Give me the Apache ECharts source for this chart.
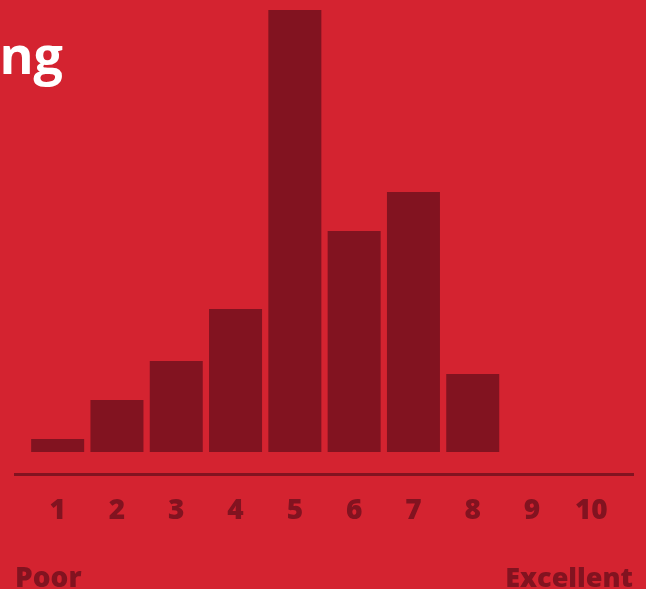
<!DOCTYPE html>
<html>
<head>
<meta charset="utf-8">
<script src="https://cdn.jsdelivr.net/npm/echarts@6/dist/echarts.min.js"></script>
<style>
  html, body { margin: 0; padding: 0; background: #D42330; }
  #chart { width: 646px; height: 589px; }
</style>
</head>
<body>
<div id="chart"></div>
<script>
// Rating scale 1–10 and share of responses for each score
const scores = ['1', '2', '3', '4', '5', '6', '7', '8', '9', '10'];
const shares = [1, 4, 7, 11, 34, 17, 20, 6, 0, 0];
const scaleLow = 'Poor';
const scaleHigh = 'Excellent';
const headline = 'ng';

const BG = '#D42330';
const DARK = '#821320';
const FONT = '"Open Sans", Lato, sans-serif';

const chart = echarts.init(document.getElementById('chart'), null, { renderer: 'canvas' });

chart.setOption({
  backgroundColor: BG,
  animation: false,
  grid: { left: 28, right: 25, top: 10, bottom: 137 },
  xAxis: {
    type: 'category',
    data: scores,
    axisLine: { show: false },
    axisTick: { show: false },
    axisLabel: {
      color: DARK,
      fontFamily: FONT,
      fontWeight: 800,
      fontSize: 28,
      verticalAlign: 'middle',
      margin: 59
    }
  },
  yAxis: {
    type: 'value',
    min: 0,
    max: 34,
    show: false,
    splitLine: { show: false }
  },
  series: [{
    type: 'bar',
    data: shares,
    barWidth: 53,
    itemStyle: { color: DARK },
    silent: true
  }],
  graphic: [
    {
      type: 'line',
      shape: { x1: 14, y1: 474.5, x2: 634, y2: 474.5 },
      style: { stroke: DARK, lineWidth: 3 },
      silent: true
    },
    {
      type: 'text',
      x: 15, y: 593,
      style: {
        text: scaleLow, fill: DARK, font: '800 28px ' + FONT,
        textAlign: 'left', textVerticalAlign: 'bottom'
      }
    },
    {
      type: 'text',
      x: 633, y: 593,
      style: {
        text: scaleHigh, fill: DARK, font: '800 27px ' + FONT,
        textAlign: 'right', textVerticalAlign: 'bottom'
      }
    },
    {
      type: 'text',
      x: 63, y: 33,
      style: {
        text: headline, fill: '#FFFFFF', font: 'bold 52px ' + FONT,
        textAlign: 'right', textVerticalAlign: 'top'
      }
    }
  ]
});
</script>
</body>
</html>
